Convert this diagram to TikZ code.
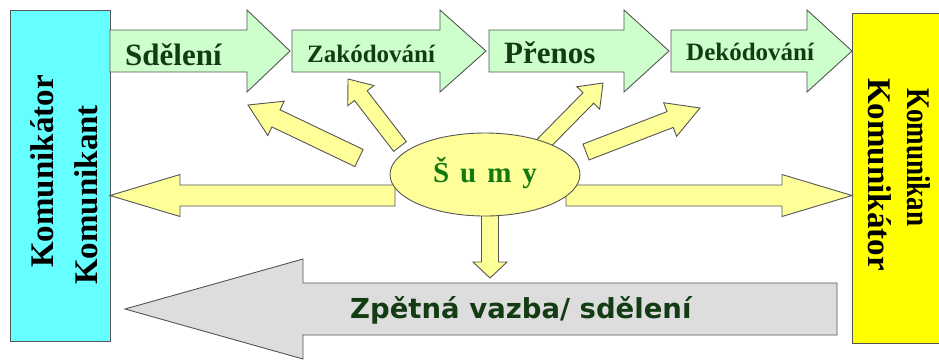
\documentclass[tikz,border=0pt]{standalone}
\usepackage{fontspec}
\setmainfont{Liberation Serif}
\newfontfamily\zsans{DejaVu Sans}
\usetikzlibrary{calc,shapes.geometric}
\definecolor{cyanbox}{HTML}{66FFFF}
\definecolor{yelbox}{HTML}{FFFF00}
\definecolor{greenarr}{HTML}{CCFFCC}
\definecolor{yelarr}{HTML}{FFFF99}
\definecolor{greyarr}{HTML}{DDDDDD}
\definecolor{edgegrey}{HTML}{555555}
\definecolor{txtgreen}{HTML}{143C14}
\definecolor{sumgreen}{HTML}{137A13}
\newcommand{\blockarrow}[6]{%
  \coordinate (ba-h) at ($(#3)!#6!(#2)$);
  \draw[#1] ($(#2)!#4!90:(#3)$) -- ($(ba-h)!#4!-90:(#2)$) -- ($(ba-h)!#5!-90:(#2)$) -- (#3)
    -- ($(ba-h)!#5!90:(#2)$) -- ($(ba-h)!#4!90:(#2)$) -- ($(#2)!#4!-90:(#3)$) -- cycle;}
\newcommand{\lsp}{\hspace{0.38em}}
\tikzset{
  garrow/.style={draw=edgegrey, line width=0.9pt, fill=greenarr, line join=miter},
  yarrow/.style={draw=edgegrey, line width=0.9pt, fill=yelarr, line join=miter},
  grarrow/.style={draw=edgegrey, line width=0.9pt, fill=greyarr, line join=miter},
  lbl/.style={inner sep=0pt, text=txtgreen, anchor=base west},
  boxtxt/.style={inner sep=0pt, anchor=base west, font=\fontsize{33}{33}\bfseries\selectfont},
}
\begin{document}
\begin{tikzpicture}[x=1pt,y=-1pt]
\clip (0,0) rectangle (939,360);
\fill[white] (0,0) rectangle (939,360);
% side boxes
\node[draw=edgegrey, line width=0.9pt, fill=cyanbox, minimum width=100pt, minimum height=331pt, inner sep=0pt] (left) at (60,175.5) {};
\node[draw=edgegrey, line width=0.9pt, fill=yelbox, minimum width=100pt, minimum height=330pt, inner sep=0pt] (right) at (902,178) {};
% green process arrows
\coordinate (a1t) at (110,51); \coordinate (a1p) at (290,51);
\coordinate (a2t) at (292,51); \coordinate (a2p) at (486,51);
\coordinate (a3t) at (489,51); \coordinate (a3p) at (669,51);
\coordinate (a4t) at (671,51); \coordinate (a4p) at (852,51);
\blockarrow{garrow}{a1t}{a1p}{21pt}{41pt}{43pt}
\blockarrow{garrow}{a2t}{a2p}{21pt}{41pt}{46pt}
\blockarrow{garrow}{a3t}{a3p}{21pt}{41pt}{45pt}
\blockarrow{garrow}{a4t}{a4p}{21pt}{41pt}{45pt}
% grey feedback arrow
\coordinate (gt) at (837,309); \coordinate (gp) at (125,309);
\blockarrow{grarrow}{gt}{gp}{26pt}{50pt}{178pt}
% yellow noise arrows
\coordinate (yl-t) at (395,195.5); \coordinate (yl-p) at (110,195.5);
\coordinate (yr-t) at (566,195.5); \coordinate (yr-p) at (852,195.5);
\coordinate (yd-t) at (490,205); \coordinate (yd-p) at (490,278);
\coordinate (d1t) at (359,158); \coordinate (d1p) at (248,105);
\coordinate (d2t) at (400,146.5); \coordinate (d2p) at (348,79);
\coordinate (d3t) at (542,145); \coordinate (d3p) at (603,83);
\coordinate (d4t) at (586,152); \coordinate (d4p) at (700,108);
\blockarrow{yarrow}{yl-t}{yl-p}{10.5pt}{21pt}{70pt}
\blockarrow{yarrow}{yr-t}{yr-p}{10.5pt}{21pt}{70pt}
\blockarrow{yarrow}{yd-t}{yd-p}{8.5pt}{17pt}{16pt}
\blockarrow{yarrow}{d1t}{d1p}{9.5pt}{19pt}{31pt}
\blockarrow{yarrow}{d2t}{d2p}{8pt}{16.5pt}{21pt}
\blockarrow{yarrow}{d3t}{d3p}{7.5pt}{16pt}{21pt}
\blockarrow{yarrow}{d4t}{d4p}{8.5pt}{18pt}{32pt}
% noise ellipse
\node[ellipse, draw=edgegrey, line width=0.9pt, fill=yelarr, minimum width=190pt, minimum height=83pt, inner sep=0pt] (sumy) at (485,174.5) {};
\node[inner sep=0pt, anchor=base, text=sumgreen, font=\fontsize{29}{29}\bfseries\selectfont] (sumytxt) at (485,182) {Š\lsp u\lsp m\lsp y};
% labels in arrows
\node[lbl, font=\fontsize{31}{31}\bfseries\selectfont] (l1) at (125,65) {Sdělení};
\node[lbl, font=\fontsize{25}{25}\bfseries\selectfont] (l2) at (307,62) {Zakódování};
\node[lbl, font=\fontsize{31}{31}\bfseries\selectfont] (l3) at (504,63) {Přenos};
\node[lbl, font=\fontsize{25}{25}\bfseries\selectfont] (l4) at (686,60) {Dekódování};
\node[lbl, font=\zsans\fontsize{27.5}{27.5}\bfseries\selectfont] (l5) at (350,318) {Zpětná vazba/ sdělení};
% box texts
\node[boxtxt, rotate=90] (k1) at (53,268) {Komunikátor};
\node[boxtxt, rotate=90] (k2) at (97,285) {Komunikant};
\node[boxtxt, rotate=-90] (k3) at (907,88) {\scalebox{0.82}[1]{Komunikan}};
\node[boxtxt, rotate=-90] (k4) at (868,78) {Komunikátor};
\end{tikzpicture}
\end{document}
